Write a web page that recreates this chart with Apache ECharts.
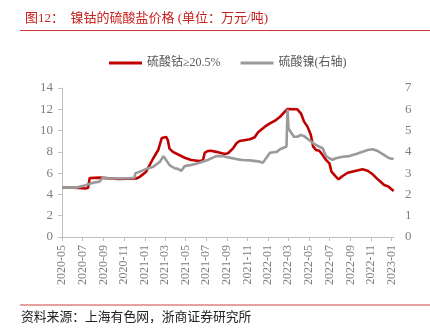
<!DOCTYPE html>
<html><head><meta charset="utf-8">
<script src="https://cdn.jsdelivr.net/npm/echarts@6/dist/echarts.min.js"></script>
<style>html,body{margin:0;padding:0;background:#fff}#c{width:430px;height:334px}</style>
</head><body><div id="c"></div>
<script>
// 硫酸钴≥20.5% (left axis, 万元/吨)
const cobaltDates = ['2020-05-01','2020-05-20','2020-06-12','2020-07-07','2020-07-17','2020-07-22','2020-08-20','2020-08-25','2020-10-15','2020-12-07','2020-12-17','2021-01-04','2021-01-26','2021-02-10','2021-02-20','2021-02-25','2021-03-05','2021-03-10','2021-03-15','2021-03-25','2021-04-29','2021-05-18','2021-06-12','2021-06-22','2021-06-27','2021-07-06','2021-07-16','2021-07-31','2021-08-25','2021-09-04','2021-09-19','2021-09-29','2021-10-08','2021-11-08','2021-11-22','2021-12-02','2021-12-22','2022-01-06','2022-01-21','2022-02-05','2022-02-27','2022-03-28','2022-04-08','2022-04-17','2022-04-27','2022-05-07','2022-05-14','2022-05-22','2022-06-01','2022-06-11','2022-06-21','2022-07-01','2022-07-07','2022-07-20','2022-07-28','2022-08-09','2022-08-24','2022-09-18','2022-10-07','2022-10-22','2022-11-06','2022-11-21','2022-12-10','2022-12-23','2023-01-07'];
const cobaltValues = [4.65,4.68,4.62,4.55,4.6,5.55,5.58,5.48,5.45,5.5,5.65,6.1,7.4,8.2,9.3,9.45,9.4,9.1,8.3,8.0,7.45,7.24,7.14,7.2,7.9,8.08,8.1,8.0,7.8,7.87,8.33,8.8,9.02,9.18,9.37,9.84,10.37,10.68,10.93,11.3,12.03,12.0,11.6,10.84,10.37,9.59,8.49,8.18,8.1,7.7,7.24,6.92,6.14,5.67,5.42,5.73,6.04,6.23,6.36,6.23,5.89,5.42,4.89,4.73,4.32];
// 硫酸镍 (right axis, 万元/吨)
const nickelDates = ['2020-05-01','2020-06-12','2020-07-07','2020-08-01','2020-08-20','2020-08-29','2020-09-19','2020-11-15','2020-12-01','2020-12-04','2020-12-17','2021-01-04','2021-01-26','2021-02-15','2021-02-25','2021-03-15','2021-03-30','2021-04-09','2021-04-19','2021-04-29','2021-05-18','2021-06-12','2021-07-06','2021-07-31','2021-08-20','2021-09-04','2021-09-29','2021-10-16','2021-11-08','2021-12-07','2021-12-16','2021-12-22','2022-01-06','2022-01-26','2022-02-05','2022-02-24','2022-02-27','2022-03-02','2022-03-10','2022-03-18','2022-03-28','2022-04-08','2022-04-17','2022-05-02','2022-05-17','2022-06-01','2022-06-11','2022-06-21','2022-07-01','2022-07-10','2022-07-20','2022-08-09','2022-08-29','2022-09-18','2022-10-07','2022-10-22','2022-11-06','2022-11-21','2022-12-10','2022-12-25','2023-01-07'];
const nickelValues = [2.33,2.32,2.42,2.55,2.6,2.78,2.75,2.76,2.78,2.99,3.07,3.19,3.3,3.54,3.8,3.38,3.23,3.2,3.11,3.33,3.38,3.49,3.62,3.8,3.8,3.74,3.66,3.62,3.6,3.54,3.49,3.62,3.96,4.0,4.12,4.25,6.0,5.1,4.9,4.71,4.71,4.79,4.74,4.56,4.37,4.24,4.17,3.8,3.7,3.62,3.7,3.77,3.8,3.9,4.0,4.09,4.12,4.04,3.85,3.7,3.66];
const seriesNames = ['硫酸钴≥20.5%', '硫酸镍(右轴)'];
const titleText = '图12：  镍钴的硫酸盐价格 (单位：万元/吨)';
const sourceText = '资料来源：上海有色网，浙商证券研究所';
const xMin = '2020-05-01', xMax = '2023-01-08';

const ts = s => { const p = s.split('-').map(Number); return Date.UTC(p[0], p[1] - 1, p[2]); };
const tickVals = [];
for (let y = 2020, m = 4; y < 2023 || (y === 2023 && m === 0); ) {
  tickVals.push(Date.UTC(y, m, 1));
  m += 2; if (m >= 12) { m -= 12; y++; }
}
const fmt = v => { const d = new Date(v); return d.getUTCFullYear() + '-' + String(d.getUTCMonth() + 1).padStart(2, '0'); };
const SERIF = '"Liberation Serif","Noto Sans CJK SC",serif';
const axisGray = '#BFBFBF', labelGray = '#7F7F7F';

const chart = echarts.init(document.getElementById('c'), null, {renderer: 'canvas'});
chart.setOption({
  animation: false,
  textStyle: {fontFamily: SERIF},
  title: {text: titleText, left: 20, top: 7, textStyle: {fontFamily: SERIF, fontSize: 13, fontWeight: 'normal', color: '#C8201E'}},
  legend: {
    top: 52, left: 104, itemWidth: 33, itemHeight: 3, itemGap: 20, icon: 'rect',
    textStyle: {fontFamily: SERIF, fontSize: 12, color: '#595959'},
    data: seriesNames
  },
  grid: {left: 62, right: 36, top: 88, bottom: 97, containLabel: false},
  xAxis: {
    type: 'value', min: ts(xMin), max: ts(xMax),
    axisLine: {lineStyle: {color: axisGray, width: 1}},
    axisTick: {show: true, customValues: tickVals, length: 4, lineStyle: {color: axisGray}},
    axisLabel: {customValues: tickVals, rotate: 90, formatter: fmt, fontFamily: SERIF, fontSize: 12, color: labelGray, margin: 8},
    splitLine: {show: false}
  },
  yAxis: [
    {type: 'value', min: 0, max: 14, interval: 2, position: 'left',
     axisLine: {show: true, lineStyle: {color: axisGray}},
     axisTick: {show: true, length: 4, lineStyle: {color: axisGray}},
     axisLabel: {fontFamily: SERIF, fontSize: 13, color: labelGray, margin: 9},
     splitLine: {show: false}},
    {type: 'value', min: 0, max: 7, interval: 1, position: 'right',
     axisLine: {show: false}, axisTick: {show: false},
     axisLabel: {fontFamily: SERIF, fontSize: 13, color: labelGray, margin: 11},
     splitLine: {show: false}}
  ],
  series: [
    {name: seriesNames[0], type: 'line', yAxisIndex: 0, showSymbol: false, symbol: 'none',
     data: cobaltDates.map((d, i) => [ts(d), cobaltValues[i]]),
     lineStyle: {color: '#C00000', width: 2.6}, itemStyle: {color: '#C00000'}, z: 3},
    {name: seriesNames[1], type: 'line', yAxisIndex: 1, showSymbol: false, symbol: 'none',
     data: nickelDates.map((d, i) => [ts(d), nickelValues[i]]),
     lineStyle: {color: '#9A9A9A', width: 2.6}, itemStyle: {color: '#9A9A9A'}, z: 4}
  ],
  graphic: [
    {type: 'line', shape: {x1: 20, y1: 30.5, x2: 430, y2: 30.5}, style: {stroke: '#D23A3A', lineWidth: 1}},
    {type: 'line', shape: {x1: 20, y1: 305, x2: 430, y2: 305}, style: {stroke: '#E6A0A0', lineWidth: 2}},
    {type: 'text', left: 21, top: 311, style: {text: sourceText, font: '12.8px ' + SERIF, fill: '#222'}}
  ]
});
</script></body></html>
